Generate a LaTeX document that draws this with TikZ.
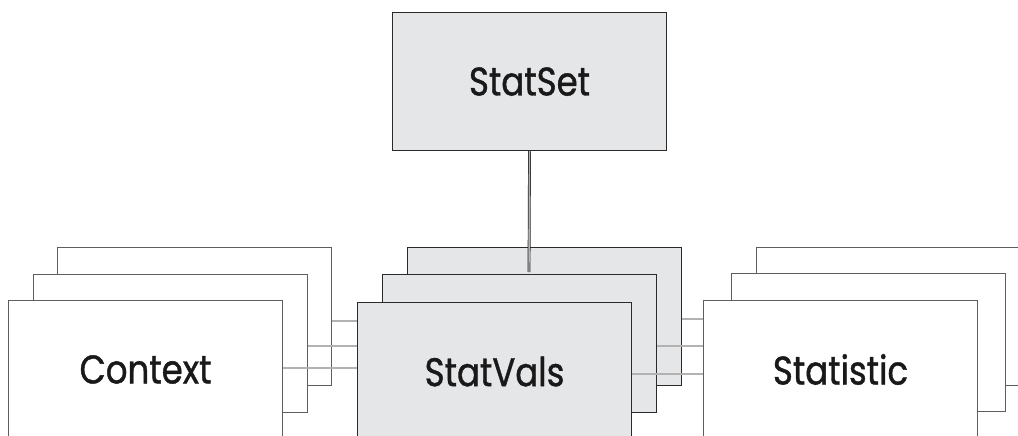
\documentclass[tikz,border=0pt]{standalone}
\usepackage{fontspec}
\setmainfont{Poppins}[FakeStretch=0.85, FakeBold=1.0]
\definecolor{boxgray}{HTML}{E5E6E7}
\definecolor{edgedark}{HTML}{2A2A2A}
\definecolor{edgemid}{HTML}{5E5E5E}
\begin{document}
\begin{tikzpicture}[x=1pt,y=-1pt,
  card/.style={anchor=north west, minimum width=274pt, minimum height=138pt, inner sep=0pt,
    font=\fontsize{40}{44}\selectfont, text=black!90},
  graycard/.style={card, fill=boxgray, draw=edgedark, line width=1.1pt},
  whitecard/.style={card, fill=white, draw=edgemid, line width=1pt},
  conn/.style={draw=edgedark, line width=0.7pt, double=gray!60, double distance=1.4pt}]
\useasboundingbox (0,0) rectangle (1018,436);
% StatSet
\node[graycard] (set) at (392,12) {StatSet};
% Context stack
\node[whitecard] (ctxB) at (57,247) {};
\node[whitecard] (ctxM) at (33,274) {};
\node[whitecard] (ctxF) at (8,300) {Context};
% StatVals stack
\node[graycard] (svB) at (407,247) {};
\node[graycard] (svM) at (382,274) {};
\node[graycard] (svF) at (357,302) {StatVals};
% Statistic stack
\node[whitecard] (stB) at (756,247) {};
\node[whitecard] (stM) at (731,273) {};
\node[whitecard] (stF) at (703,300) {Statistic};
% connector levels
\coordinate (ya) at (0,321);
\coordinate (yb) at (0,346);
\coordinate (yc) at (0,368);
\coordinate (yd) at (0,319);
\coordinate (ye) at (0,346);
\coordinate (yf) at (0,374);
\coordinate (setfoot) at (529,272);
% connectors
\draw[conn] (set.south) -- (setfoot);
\draw[conn] (ctxB.east |- ya) -- (svF.west |- ya);
\draw[conn] (ctxM.east |- yb) -- (svF.west |- yb);
\draw[conn] (ctxF.east |- yc) -- (svF.west |- yc);
\draw[conn] (svB.east |- yd) -- (stF.west |- yd);
\draw[conn] (svM.east |- ye) -- (stF.west |- ye);
\draw[conn] (svF.east |- yf) -- (stF.west |- yf);
\end{tikzpicture}
\end{document}
